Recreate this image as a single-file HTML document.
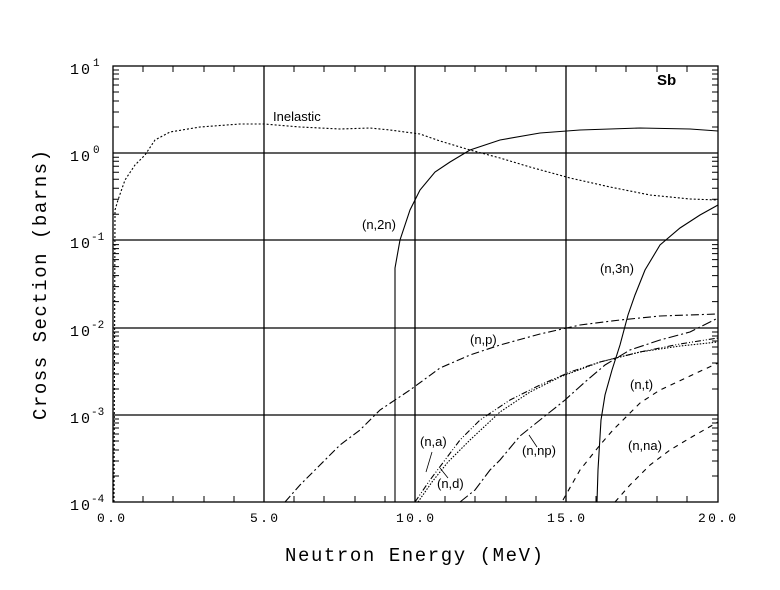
<!DOCTYPE html>
<html><head><meta charset="utf-8"><style>body{margin:0;background:#fff}svg{display:block}</style></head><body>
<svg width="780" height="590" xmlns="http://www.w3.org/2000/svg" font-family="Liberation Sans, sans-serif">
<rect width="780" height="590" fill="#fff"/>
<g stroke="#000" stroke-width="1.3" fill="none">
<rect x="113" y="66" width="605" height="436"/>
<line x1="264" y1="66" x2="264" y2="502"/><line x1="415" y1="66" x2="415" y2="502"/><line x1="566" y1="66" x2="566" y2="502"/>
<line x1="113" y1="153" x2="718" y2="153"/><line x1="113" y1="240" x2="718" y2="240"/><line x1="113" y1="328" x2="718" y2="328"/><line x1="113" y1="415" x2="718" y2="415"/>
</g>
<g stroke="#000" stroke-width="1" id="ticks">
<path d="M143 66v6M173 66v6M204 66v6M234 66v6M294 66v6M324 66v6M355 66v6M385 66v6M445 66v6M475 66v6M506 66v6M536 66v6M596 66v6M626 66v6M657 66v6M687 66v6
M143 502v-6M173 502v-6M204 502v-6M234 502v-6M294 502v-6M324 502v-6M355 502v-6M385 502v-6M445 502v-6M475 502v-6M506 502v-6M536 502v-6M596 502v-6M626 502v-6M657 502v-6M687 502v-6"/>
<path id="lt" d="M113 127h6M113 112h6M113 101h6M113 92h6M113 85h6M113 79h6M113 74h6M113 70h6 M712 127h6M712 112h6M712 101h6M712 92h6M712 85h6M712 79h6M712 74h6M712 70h6"/>
<use href="#lt" y="87.3"/><use href="#lt" y="174.6"/><use href="#lt" y="262"/><use href="#lt" y="349"/>
</g>
<g fill="none" stroke="#000" stroke-width="1.1">
<polyline stroke-dasharray="2,2" points="114,502 115,210 118,200 125,180 135,165 145,155 155,140 170,132 200,127 240,124 264,124 300,127 340,129 370,128 390,130 420,134 440,141 470,150 500,158 530,167 570,178 610,187 650,195 690,199 718,200"/>
<polyline points="395,502 395,268 400,240 410,210 420,190 435,172 450,162 470,150 500,140 540,133 580,130 640,128 690,129 718,131"/>
<polyline points="597,502 598,470 601,420 605,395 612,370 620,345 628,315 635,295 645,270 660,245 680,228 700,215 718,205"/>
<polyline stroke-dasharray="8,3,2,3" points="285,502 300,485 320,465 340,445 360,430 380,410 410,390 440,368 470,355 500,345 540,334 580,325 620,320 660,316 718,314"/>
<polyline stroke-dasharray="6,2,1,2,1,2" points="415,502 430,480 445,460 460,440 480,420 510,400 540,385 570,372 600,362 640,352 680,344 718,338"/>
<polyline stroke-dasharray="1.5,1.5" points="418,502 432,482 448,462 470,440 500,412 530,392 560,377 600,362 640,352 680,346 718,342"/>
<polyline stroke-dasharray="10,3,2,3" points="460,502 475,490 490,470 500,460 520,436 545,416 565,400 585,382 605,365 630,350 660,340 690,332 718,318"/>
<polyline stroke-dasharray="5,5" points="563,500 580,470 600,445 613,430 640,403 660,390 690,376 718,363"/>
<polyline stroke-dasharray="5,5" points="615,502 630,485 650,465 670,450 690,438 718,422"/>
<path d="M432 452l-6 20M448 478l-8-10M537 447l-8-12" stroke-width="0.8"/>
</g>
<g font-size="13" fill="#000">
<text x="273" y="121">Inelastic</text>
<text x="362" y="229">(n,2n)</text>
<text x="600" y="273">(n,3n)</text>
<text x="470" y="344">(n,p)</text>
<text x="420" y="446">(n,a)</text>
<text x="437" y="488">(n,d)</text>
<text x="522" y="455">(n,np)</text>
<text x="630" y="389">(n,t)</text>
<text x="628" y="450">(n,na)</text>
<text x="657" y="85" font-weight="bold" font-size="15">Sb</text>
</g>
<g font-family="Liberation Mono, monospace" font-size="13" fill="#000">
<text x="97" y="522" textLength="28">0.0</text>
<text x="250" y="522" textLength="28">5.0</text>
<text x="396" y="522" textLength="38">10.0</text>
<text x="547" y="522" textLength="38">15.0</text>
<text x="698" y="522" textLength="38">20.0</text>
<g font-size="15">
<text x="70" y="74" textLength="20">10</text>
<text x="70" y="161" textLength="20">10</text>
<text x="70" y="248" textLength="20">10</text>
<text x="70" y="336" textLength="20">10</text>
<text x="70" y="423" textLength="20">10</text>
<text x="70" y="510" textLength="20">10</text>
</g>
<g font-size="11">
<text x="93" y="66">1</text>
<text x="93" y="153">0</text>
<text x="91" y="240">-1</text>
<text x="91" y="328">-2</text>
<text x="91" y="415">-3</text>
<text x="91" y="502">-4</text>
</g>
<text x="285" y="561" font-size="19" textLength="258">Neutron Energy (MeV)</text>
<text transform="translate(46,420) rotate(-90)" font-size="19" textLength="270">Cross Section (barns)</text>
</g>
</svg>
</body></html>
